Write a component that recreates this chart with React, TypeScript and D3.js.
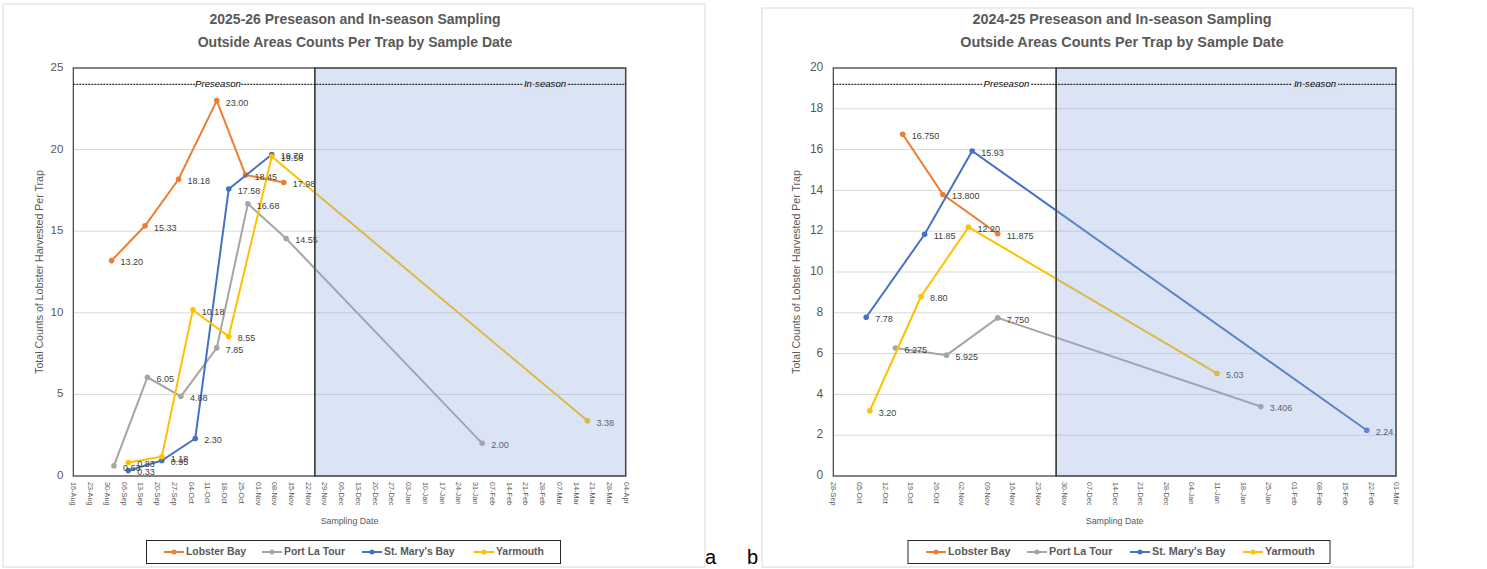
import React from "react";
import * as d3 from "d3";

// ---------- shared ----------
const SERIES = ["Lobster Bay", "Port La Tour", "St. Mary's Bay", "Yarmouth"];
const COLORS = ["#ED7D31", "#A5A5A5", "#4472C4", "#FFC000"];
const Y_LABEL = "Total Counts of Lobster Harvested Per Trap";
const X_LABEL = "Sampling Date";
const PHASE_LABELS = ["Preseason", "In-season"];
const PANEL_TAGS = ["a", "b"];

// ---------- chart a: 2025-26 ----------
const A_TITLE = ["2025-26 Preseason and In-season Sampling", "Outside Areas Counts Per Trap by Sample Date"];
const A_X_RANGE = ["2025-08-16", "2026-04-04"];
const A_Y_TICKS = [0, 5, 10, 15, 20, 25];
const A_INSEASON_START = "2025-11-25";
const A_PHASE_LINE = 24;
const A_LOBSTER_DATES = ["2025-09-01", "2025-09-15", "2025-09-29", "2025-10-15", "2025-10-27", "2025-11-12"];
const A_LOBSTER_VALUES = [13.2, 15.33, 18.18, 23.0, 18.45, 17.98];
const A_PORT_DATES = ["2025-09-02", "2025-09-16", "2025-09-30", "2025-10-15", "2025-10-28", "2025-11-13", "2026-02-03"];
const A_PORT_VALUES = [0.63, 6.05, 4.88, 7.85, 16.68, 14.55, 2.0];
const A_STMARY_DATES = ["2025-09-08", "2025-09-22", "2025-10-06", "2025-10-20", "2025-11-07"];
const A_STMARY_VALUES = [0.33, 0.95, 2.3, 17.58, 19.7];
const A_YARMOUTH_DATES = ["2025-09-08", "2025-09-22", "2025-10-05", "2025-10-20", "2025-11-07", "2026-03-19"];
const A_YARMOUTH_VALUES = [0.83, 1.18, 10.18, 8.55, 19.58, 3.38];
const A_DECIMALS = [2, 2, 2, 2];

// ---------- chart b: 2024-25 ----------
const B_TITLE = ["2024-25 Preseason and In-season Sampling", "Outside Areas Counts Per Trap by Sample Date"];
const B_X_RANGE = ["2024-09-28", "2025-03-01"];
const B_Y_TICKS = [0, 2, 4, 6, 8, 10, 12, 14, 16, 18, 20];
const B_INSEASON_START = "2024-11-28";
const B_PHASE_LINE = 19.2;
const B_LOBSTER_DATES = ["2024-10-17", "2024-10-28", "2024-11-12"];
const B_LOBSTER_VALUES = [16.75, 13.8, 11.875];
const B_PORT_DATES = ["2024-10-15", "2024-10-29", "2024-11-12", "2025-01-23"];
const B_PORT_VALUES = [6.275, 5.925, 7.75, 3.406];
const B_STMARY_DATES = ["2024-10-07", "2024-10-23", "2024-11-05", "2025-02-21"];
const B_STMARY_VALUES = [7.78, 11.85, 15.93, 2.24];
const B_YARMOUTH_DATES = ["2024-10-08", "2024-10-22", "2024-11-04", "2025-01-11"];
const B_YARMOUTH_VALUES = [3.2, 8.8, 12.2, 5.03];
const B_DECIMALS = [3, 3, 2, 2];

const parse = d3.timeParse("%Y-%m-%d");
const fmtTick = d3.timeFormat("%d-%b");
const FONT = "'Liberation Sans', Arial, sans-serif";
const GREY_TXT = "#595959";

type Layout = {
  frame: [number, number, number, number];
  plot: [number, number, number, number];
  titleX: number;
  titleSize: number;
  yLabelX: number;
  tickSize: number;
  xTickSize: number;
  labelSize: number;
  phaseX: [number, number];
  phaseW: [number, number];
  legendBox: [number, number, number, number];
  legendItems: number[];
  legendSize: number;
};

const A_LAYOUT: Layout = {
  frame: [3, 4, 702, 563],
  plot: [73.3, 68, 552.4, 408],
  titleX: 355,
  titleSize: 14,
  yLabelX: 40,
  tickSize: 11.5,
  xTickSize: 7.3,
  labelSize: 9,
  phaseX: [218, 545],
  phaseW: [46, 44],
  legendBox: [146.5, 540.5, 414, 23],
  legendItems: [164, 262, 362, 474],
  legendSize: 10.4,
};

const B_LAYOUT: Layout = {
  frame: [762, 8, 651, 559],
  plot: [833.3, 68, 562.7, 408],
  titleX: 1122,
  titleSize: 14.4,
  yLabelX: 797,
  tickSize: 12,
  xTickSize: 7.3,
  labelSize: 9,
  phaseX: [1006.5, 1315],
  phaseW: [48, 46],
  legendBox: [908, 540.5, 422, 23],
  legendItems: [926, 1027, 1130, 1243],
  legendSize: 10.8,
};

type Props = {
  title: string[];
  xRange: string[];
  yTicks: number[];
  inStart: string;
  phaseVal: number;
  dates: string[][];
  values: number[][];
  decimals: number[];
  L: Layout;
};

function Panel({ title, xRange, yTicks, inStart, phaseVal, dates, values, decimals, L }: Props) {
  const [px, py, pw, ph] = L.plot;
  const x = d3.scaleTime().domain(xRange.map((s) => parse(s) as Date)).range([px, px + pw]);
  const y = d3.scaleLinear().domain([0, d3.max(yTicks) as number]).range([py + ph, py]);
  const start = parse(xRange[0]) as Date;
  const end = parse(xRange[1]) as Date;
  const ticks = d3.timeDay.range(start, d3.timeDay.offset(end, 1), 7);
  const line = d3
    .line<[Date, number]>()
    .x((d) => x(d[0]))
    .y((d) => y(d[1]));
  const inX = x(parse(inStart) as Date);
  const phaseY = y(phaseVal);
  const [fx, fy, fw, fh] = L.frame;
  const [lx, ly, lw, lh] = L.legendBox;

  return (
    <g fontFamily={FONT}>
      <rect x={fx} y={fy} width={fw} height={fh} fill="#fff" stroke="#d9d9d9" strokeWidth={1} />
      {title.map((t, i) => (
        <text
          key={i}
          x={L.titleX}
          y={20 + i * 23}
          textAnchor="middle"
          dominantBaseline="middle"
          fontWeight="bold"
          fontSize={L.titleSize}
          fill={GREY_TXT}
        >
          {t}
        </text>
      ))}
      {/* gridlines */}
      {yTicks.map((t) => (
        <g key={t}>
          <line x1={px} x2={px + pw} y1={y(t)} y2={y(t)} stroke="#d9d9d9" strokeWidth={1} />
          <text
            x={px - 10}
            y={y(t)}
            textAnchor="end"
            dominantBaseline="middle"
            fontSize={L.tickSize}
            fill={GREY_TXT}
          >
            {t}
          </text>
        </g>
      ))}
      {/* preseason border */}
      <rect x={px} y={py} width={inX - px} height={ph} fill="none" stroke="#404040" strokeWidth={1.2} />
      {/* x ticks */}
      {ticks.map((d, i) => (
        <text
          key={i}
          transform={`translate(${x(d)},${py + ph + 6}) rotate(90)`}
          dominantBaseline="middle"
          fontSize={L.xTickSize}
          fill={GREY_TXT}
        >
          {fmtTick(d)}
        </text>
      ))}
      <text
        x={px + pw / 2}
        y={522}
        textAnchor="middle"
        dominantBaseline="middle"
        fontSize={8.8}
        fill={GREY_TXT}
      >
        {X_LABEL}
      </text>
      <text
        transform={`translate(${L.yLabelX},${py + ph / 2}) rotate(-90)`}
        textAnchor="middle"
        dominantBaseline="middle"
        fontSize={10.6}
        fill={GREY_TXT}
      >
        {Y_LABEL}
      </text>
      {/* series */}
      {SERIES.map((s, si) => {
        const pts: [Date, number][] = dates[si].map((d, j) => [parse(d) as Date, values[si][j]]);
        return (
          <g key={s}>
            <path d={line(pts) || ""} fill="none" stroke={COLORS[si]} strokeWidth={2} />
            {pts.map((p, j) => (
              <circle key={j} cx={x(p[0])} cy={y(p[1])} r={2.8} fill={COLORS[si]} />
            ))}
          </g>
        );
      })}
      {SERIES.map((s, si) => (
        <g key={s + "l"}>
          {dates[si].map((d, j) => (
            <text
              key={j}
              x={x(parse(d) as Date) + 9}
              y={y(values[si][j]) + 2.5}
              dominantBaseline="middle"
              fontSize={L.labelSize}
              fill="#404040"
            >
              {values[si][j].toFixed(decimals[si])}
            </text>
          ))}
        </g>
      ))}
      {/* in-season shading */}
      <rect
        x={inX}
        y={py}
        width={px + pw - inX}
        height={ph}
        fill="#8FAADC"
        fillOpacity={0.32}
        stroke="#404040"
        strokeWidth={1.5}
      />
      {/* phase line */}
      <line
        x1={px}
        x2={px + pw}
        y1={phaseY}
        y2={phaseY}
        stroke="#000"
        strokeWidth={1}
        strokeDasharray="2,1"
      />
      {PHASE_LABELS.map((t, i) => (
        <g key={t}>
          <rect
            x={L.phaseX[i] - L.phaseW[i] / 2}
            y={phaseY - 5}
            width={L.phaseW[i]}
            height={10}
            fill={i === 0 ? "#fff" : "#DAE3F3"}
          />
          <text
            x={L.phaseX[i]}
            y={phaseY}
            textAnchor="middle"
            dominantBaseline="middle"
            fontStyle="italic"
            fontSize={9.6}
            fill="#000"
          >
            {t}
          </text>
        </g>
      ))}
      {/* legend */}
      <rect x={lx} y={ly} width={lw} height={lh} fill="#fff" stroke="#262626" strokeWidth={1} />
      {SERIES.map((s, si) => (
        <g key={s + "g"}>
          <line
            x1={L.legendItems[si]}
            x2={L.legendItems[si] + 20}
            y1={ly + lh / 2}
            y2={ly + lh / 2}
            stroke={COLORS[si]}
            strokeWidth={2}
          />
          <circle cx={L.legendItems[si] + 10} cy={ly + lh / 2} r={2.5} fill={COLORS[si]} />
          <text
            x={L.legendItems[si] + 22}
            y={ly + lh / 2}
            dominantBaseline="middle"
            fontWeight="bold"
            fontSize={L.legendSize}
            fill={GREY_TXT}
          >
            {s}
          </text>
        </g>
      ))}
    </g>
  );
}

export default function App() {
  return (
    <svg
      width={1487}
      height={569}
      style={{ position: "absolute", left: 0, top: 0, background: "#fff" }}
    >
      <rect x={0} y={0} width={1487} height={569} fill="#fff" />
      <Panel
        title={A_TITLE}
        xRange={A_X_RANGE}
        yTicks={A_Y_TICKS}
        inStart={A_INSEASON_START}
        phaseVal={A_PHASE_LINE}
        dates={[A_LOBSTER_DATES, A_PORT_DATES, A_STMARY_DATES, A_YARMOUTH_DATES]}
        values={[A_LOBSTER_VALUES, A_PORT_VALUES, A_STMARY_VALUES, A_YARMOUTH_VALUES]}
        decimals={A_DECIMALS}
        L={A_LAYOUT}
      />
      <Panel
        title={B_TITLE}
        xRange={B_X_RANGE}
        yTicks={B_Y_TICKS}
        inStart={B_INSEASON_START}
        phaseVal={B_PHASE_LINE}
        dates={[B_LOBSTER_DATES, B_PORT_DATES, B_STMARY_DATES, B_YARMOUTH_DATES]}
        values={[B_LOBSTER_VALUES, B_PORT_VALUES, B_STMARY_VALUES, B_YARMOUTH_VALUES]}
        decimals={B_DECIMALS}
        L={B_LAYOUT}
      />
      {PANEL_TAGS.map((t, i) => (
        <text
          key={t}
          x={705 + i * 42}
          y={564}
          fontFamily={FONT}
          fontSize={20}
          fill="#000"
        >
          {t}
        </text>
      ))}
    </svg>
  );
}
